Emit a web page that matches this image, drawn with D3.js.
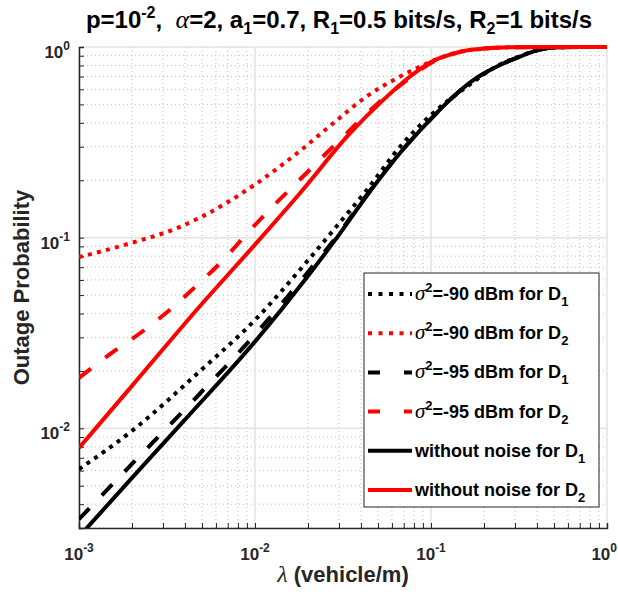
<!DOCTYPE html>
<html><head><meta charset="utf-8">
<script src="https://cdn.jsdelivr.net/npm/d3@7"></script>
<style>body{margin:0;background:#fff}svg{display:block}text{font-family:"Liberation Sans",Arial,Helvetica,sans-serif}</style>
</head><body><svg id="c" width="618" height="603"></svg>
<script>
// ---- data ----
const xNoNoiseD1 = [0.001,0.002,0.004,0.01,0.02,0.0285,0.043,0.0667,0.1,0.13,0.17,0.25,0.32,0.4,0.5,0.7,1];
const yNoNoiseD1 = [0.0027,0.0055,0.0111,0.0285,0.063,0.097,0.165,0.278,0.42,0.535,0.66,0.81,0.89,0.96,0.993,1,1];
const xN90D1 = [0.001,0.002,0.005,0.01,0.02,0.028,0.043,0.0667,0.1,0.16,0.25,0.32,0.4,0.5,0.7,1];
const yN90D1 = [0.0061,0.0097,0.0204,0.037,0.076,0.110,0.177,0.30,0.44,0.62,0.815,0.895,0.962,0.993,1,1];
const xN95D1 = [0.001,0.002,0.004,0.01,0.02,0.0285,0.043,0.0667,0.1,0.13,0.17,0.25,0.32,0.4,0.5,0.7,1];
const yN95D1 = [0.00334,0.0065,0.0126,0.031,0.066,0.099,0.167,0.279,0.42,0.535,0.66,0.81,0.89,0.96,0.993,1,1];
const xNoNoiseD2 = [0.001,0.002,0.005,0.01,0.018,0.0347,0.0536,0.076,0.1,0.13,0.16,0.2,0.3,0.5,1];
const yNoNoiseD2 = [0.0079,0.0167,0.045,0.092,0.171,0.353,0.528,0.70,0.835,0.915,0.96,0.982,0.997,1,1];
const xN90D2 = [0.001,0.002,0.0035,0.005,0.01,0.018,0.028,0.043,0.0667,0.095,0.13,0.2,0.3,0.5,1];
const yN90D2 = [0.079,0.094,0.111,0.129,0.19,0.285,0.40,0.55,0.70,0.82,0.92,0.98,0.997,1,1];
const xN95D2 = [0.001,0.0015,0.0023,0.0033,0.0047,0.0066,0.009,0.012,0.0188,0.0255,0.0339,0.048,0.0697,0.103,0.13,0.16,0.2,0.3,0.5,1];
const yN95D2 = [0.0184,0.0245,0.0323,0.042,0.0565,0.0764,0.105,0.139,0.21,0.278,0.36,0.49,0.648,0.838,0.915,0.96,0.982,0.997,1,1];

const xTickExps = [-3,-2,-1,0];
const yTickExps = [-2,-1,0];
const legendLabels = [
  {sig:"-90", d:"1"}, {sig:"-90", d:"2"}, {sig:"-95", d:"1"}, {sig:"-95", d:"2"},
  {txt:"without noise for D", d:"1"}, {txt:"without noise for D", d:"2"}
];

// ---- layout ----
const L=79, R=607, T=47, B=528;
const x = d3.scaleLog().domain([1e-3,1]).range([L,R]);
const y = d3.scaleLog().domain([0.003,1]).range([B,T]);
const svg = d3.select("#c");
const axisCol = "#262626";
const greek = "Liberation Serif";

// grid
const g = svg.append("g");
const minorX=[], minorY=[];
for (let e=-3;e<0;e++) for (let k=2;k<=9;k++) minorX.push(k*Math.pow(10,e));
for (let e=-3;e<0;e++) for (let k=2;k<=9;k++){const v=k*Math.pow(10,e); if(v>=0.003&&v<1) minorY.push(v);}
g.selectAll(".mx").data(minorX).join("line").attr("x1",d=>x(d)).attr("x2",d=>x(d)).attr("y1",T).attr("y2",B)
  .attr("stroke","#bdbdbd").attr("stroke-width",1).attr("stroke-dasharray","1,3");
g.selectAll(".my").data(minorY).join("line").attr("y1",d=>y(d)).attr("y2",d=>y(d)).attr("x1",L).attr("x2",R)
  .attr("stroke","#bdbdbd").attr("stroke-width",1).attr("stroke-dasharray","1,3");
g.selectAll(".Mx").data(xTickExps).join("line").attr("x1",d=>x(Math.pow(10,d))).attr("x2",d=>x(Math.pow(10,d))).attr("y1",T).attr("y2",B)
  .attr("stroke","#e3e3e3").attr("stroke-width",1.5);
g.selectAll(".My").data(yTickExps).join("line").attr("y1",d=>y(Math.pow(10,d))).attr("y2",d=>y(Math.pow(10,d))).attr("x1",L).attr("x2",R)
  .attr("stroke","#e3e3e3").attr("stroke-width",1.5);

// axes
const xAxis = d3.axisBottom(x).tickValues(minorX.concat(xTickExps.map(e=>Math.pow(10,e)))).tickSize(-5).tickFormat("");
const yAxis = d3.axisLeft(y).tickValues(minorY.concat(yTickExps.map(e=>Math.pow(10,e)))).tickSize(-5).tickFormat("");
const xa = svg.append("g").attr("transform",`translate(0,${B})`).call(xAxis);
const ya = svg.append("g").attr("transform",`translate(${L},0)`).call(yAxis);
[xa,ya].forEach(a=>{a.select(".domain").attr("stroke",axisCol).attr("stroke-width",1.5);a.selectAll(".tick line").attr("stroke",axisCol).attr("stroke-width",1);});

// tick labels
xTickExps.forEach(e=>{
  const last = e===0;
  const t = svg.append("text").attr("x",last?617:x(Math.pow(10,e))).attr("y",560).attr("text-anchor",last?"end":"middle")
    .attr("font-size",17).attr("font-weight","bold").attr("fill",axisCol);
  t.append("tspan").text("10");
  t.append("tspan").attr("dy",-8).attr("font-size",12).text(String(e));
});
yTickExps.forEach(e=>{
  const t = svg.append("text").attr("x",70).attr("y",y(Math.pow(10,e))+11).attr("text-anchor","end")
    .attr("font-size",17).attr("font-weight","bold").attr("fill",axisCol);
  t.append("tspan").text("10");
  t.append("tspan").attr("dy",-8).attr("font-size",12).text(String(e));
});

// axis labels
svg.append("text").attr("transform",`translate(29,${(T+B)/2}) rotate(-90)`).attr("text-anchor","middle")
  .attr("font-size",22).attr("font-weight","bold").attr("fill",axisCol).text("Outage Probability");
const xl = svg.append("text").attr("x",(L+R)/2).attr("y",582).attr("text-anchor","middle")
  .attr("font-size",22).attr("font-weight","bold").attr("fill",axisCol);
xl.append("tspan").attr("font-family",greek).attr("font-style","italic").attr("font-weight","normal").attr("font-size",24).text("λ");
xl.append("tspan").text("\u00A0(vehicle/m)");

// title
const tt = svg.append("text").attr("x",(L+R)/2-4).attr("y",28).attr("text-anchor","middle")
  .attr("font-size",24).attr("font-weight","bold").attr("fill","#000");
tt.append("tspan").text("p=10");
tt.append("tspan").attr("dy",-10).attr("font-size",16).text("-2");
tt.append("tspan").attr("dy",10).text(",\u00A0\u00A0");
tt.append("tspan").attr("font-family",greek).attr("font-style","italic").attr("font-weight","normal").attr("font-size",26).text("α");
tt.append("tspan").text("=2, a");
tt.append("tspan").attr("dy",6).attr("font-size",16).text("1");
tt.append("tspan").attr("dy",-6).text("=0.7, R");
tt.append("tspan").attr("dy",6).attr("font-size",16).text("1");
tt.append("tspan").attr("dy",-6).text("=0.5 bits/s, R");
tt.append("tspan").attr("dy",6).attr("font-size",16).text("2");
tt.append("tspan").attr("dy",-6).text("=1 bits/s");

// series
const DOT="4,5.3", DASH="15,18";
const series = [
  {xs:xN90D1, ys:yN90D1, color:"#000", dash:DOT},
  {xs:xN90D2, ys:yN90D2, color:"#ff0000", dash:DOT},
  {xs:xN95D1, ys:yN95D1, color:"#000", dash:DASH},
  {xs:xN95D2, ys:yN95D2, color:"#ff0000", dash:DASH},
  {xs:xNoNoiseD1, ys:yNoNoiseD1, color:"#000", dash:null},
  {xs:xNoNoiseD2, ys:yNoNoiseD2, color:"#ff0000", dash:null}
];
svg.append("clipPath").attr("id","clip").append("rect").attr("x",L).attr("y",T-3).attr("width",R-L).attr("height",B-T+3);
const line = d3.line().x(d=>x(d[0])).y(d=>y(d[1])).curve(d3.curveMonotoneX);
const pg = svg.append("g").attr("clip-path","url(#clip)");
series.forEach(s=>{
  pg.append("path").datum(s.xs.map((v,i)=>[v,s.ys[i]])).attr("d",line).attr("fill","none")
    .attr("stroke",s.color).attr("stroke-width",4).attr("stroke-dasharray",s.dash);
});

// legend
const lg = svg.append("g");
lg.append("rect").attr("x",364).attr("y",273).attr("width",235).attr("height",234).attr("fill","#fff").attr("stroke",axisCol).attr("stroke-width",1);
series.forEach((s,i)=>{
  const cy = 294 + i*39.2;
  lg.append("line").attr("x1",368).attr("x2",412).attr("y1",cy).attr("y2",cy).attr("stroke",s.color).attr("stroke-width",4)
    .attr("stroke-dasharray", s.dash===DASH ? "12,24,12" : (s.dash===DOT ? "4,6.5" : null));
  const lab = legendLabels[i];
  const t = lg.append("text").attr("x",415).attr("y",cy+6).attr("font-size",18).attr("font-weight","bold").attr("fill","#000");
  if (lab.sig){
    t.append("tspan").attr("font-family",greek).attr("font-style","italic").attr("font-weight","normal").attr("font-size",21).text("σ");
    t.append("tspan").attr("dy",-8).attr("font-size",13).text("2");
    t.append("tspan").attr("dy",8).text("="+lab.sig+" dBm for D");
  } else {
    t.append("tspan").text(lab.txt);
  }
  t.append("tspan").attr("dy",6).attr("font-size",13).text(lab.d);
});
</script></body></html>
